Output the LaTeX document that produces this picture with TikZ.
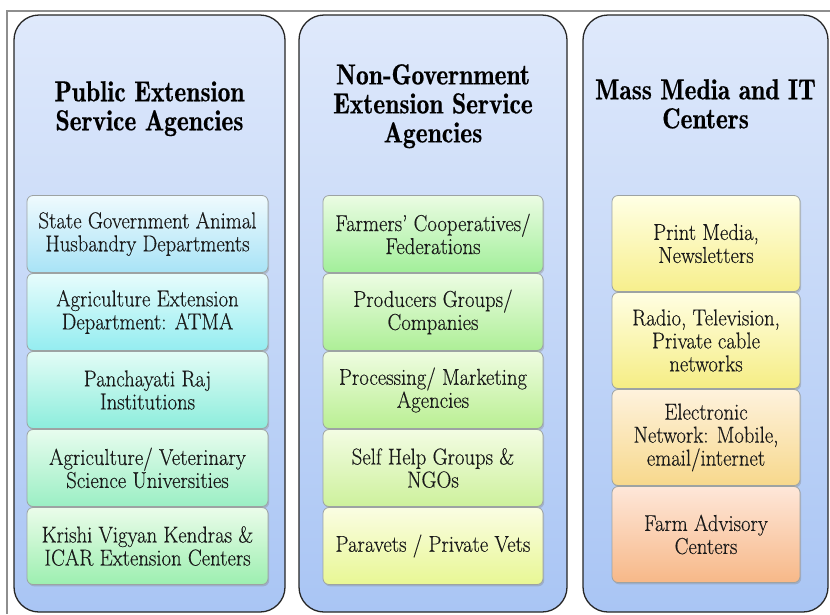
\documentclass[tikz,border=0pt]{standalone}
\usepackage{fontspec}
\setmainfont{Latin Modern Roman}[FakeStretch=0.9, FakeBold=0.35]
\newfontfamily\headfont{lmromandemi10-regular}[Extension=.otf, FakeStretch=0.88, FakeBold=0.4]
\usetikzlibrary{shadows}

\definecolor{framegray}{HTML}{8E8E8E}
\definecolor{paneltop}{HTML}{DFE9FB}
\definecolor{panelbot}{HTML}{A9C5F4}
\definecolor{boxline}{HTML}{9DA3A3}
% top / bottom shades of the boxes
\definecolor{puba}{HTML}{EFFAFE}\definecolor{pubA}{HTML}{A8E3F6}
\definecolor{pubb}{HTML}{E7FCFC}\definecolor{pubB}{HTML}{94EDF0}
\definecolor{pubc}{HTML}{E3FCF6}\definecolor{pubC}{HTML}{8CEDDC}
\definecolor{pubd}{HTML}{E7FCEE}\definecolor{pubD}{HTML}{9AEFC4}
\definecolor{pube}{HTML}{EBFCEA}\definecolor{pubE}{HTML}{9CEFB0}
\definecolor{ngoa}{HTML}{EBFCE3}\definecolor{ngoA}{HTML}{A2EF9A}
\definecolor{ngob}{HTML}{EDFCE3}\definecolor{ngoB}{HTML}{ADEF96}
\definecolor{ngoc}{HTML}{EFFCE1}\definecolor{ngoC}{HTML}{B9EF92}
\definecolor{ngod}{HTML}{F3FCE3}\definecolor{ngoD}{HTML}{CDF19C}
\definecolor{ngoe}{HTML}{FAFDE3}\definecolor{ngoE}{HTML}{E8F794}
\definecolor{meda}{HTML}{FFFFE5}\definecolor{medA}{HTML}{F7EF8C}
\definecolor{medb}{HTML}{FFFEE2}\definecolor{medB}{HTML}{F5ED84}
\definecolor{medc}{HTML}{FEF2DD}\definecolor{medC}{HTML}{F7D88C}
\definecolor{medd}{HTML}{FEE7D9}\definecolor{medD}{HTML}{F7B888}

\begin{document}
\begin{tikzpicture}[x=1pt, y=-1pt,
        panel/.style={draw=black!85, line width=1.3pt, rounded corners=25pt,
            top color=paneltop, bottom color=panelbot},
        head/.style={anchor=north, inner sep=0pt, align=center, text=black,
            font=\headfont\fontsize{29}{29}\selectfont},
        item/.style 2 args={draw=boxline, line width=0.8pt, rounded corners=6pt,
            top color=#1, bottom color=#2, align=center, inner sep=2pt,
            text=black!90, font=\fontsize{23}{23}\selectfont,
            drop shadow={shadow xshift=1.2pt, shadow yshift=-1.8pt, opacity=0.35}},
        pubbox/.style={minimum width=241, minimum height=77},
        ngobox/.style={minimum width=220, minimum height=77},
        medbox/.style={minimum width=188, minimum height=96}]
        \useasboundingbox (0,0) rectangle (830,614);

        % frame round the whole chart
        \draw[framegray, line width=1.5pt] (7,614) -- (7,11) -- (830,11);

        % the three columns
        \node[panel, minimum width=271, minimum height=597] (pub) at (149.5,313.5) {};
        \node[panel, minimum width=268, minimum height=597] (ngo) at (433,313.5) {};
        \node[panel, minimum width=245, minimum height=597] (med) at (705.5,313.5) {};

        \node[head] (pubhead) at (149.5,81) {Public Extension\\Service Agencies};
        \node[head] (ngohead) at (433,64) {Non-Government\\Extension Service\\Agencies};
        \node[head] (medhead) at (705.5,79) {Mass Media and IT\\Centers};

        % public agencies
        \node[item={puba}{pubA}, pubbox] (pub1) at (147.5,234) {State Government Animal\\Husbandry Departments};
        \node[item={pubb}{pubB}, pubbox] (pub2) at (147.5,312) {Agriculture Extension\\Department: ATMA};
        \node[item={pubc}{pubC}, pubbox] (pub3) at (147.5,390) {Panchayati Raj\\Institutions};
        \node[item={pubd}{pubD}, pubbox] (pub4) at (147.5,468) {Agriculture/ Veterinary\\Science Universities};
        \node[item={pube}{pubE}, pubbox] (pub5) at (147.5,546) {Krishi Vigyan Kendras \&\\ICAR Extension Centers};

        % non-government agencies
        \node[item={ngoa}{ngoA}, ngobox] (ngo1) at (433,234) {Farmers’ Cooperatives/\\Federations};
        \node[item={ngob}{ngoB}, ngobox] (ngo2) at (433,312) {Producers Groups/\\Companies};
        \node[item={ngoc}{ngoC}, ngobox] (ngo3) at (433,390) {Processing/ Marketing\\Agencies};
        \node[item={ngod}{ngoD}, ngobox] (ngo4) at (433,468) {Self Help Groups \&\\NGOs};
        \node[item={ngoe}{ngoE}, ngobox] (ngo5) at (433,546) {Paravets / Private Vets};

        % media and IT
        \node[item={meda}{medA}, medbox] (med1) at (706,243.5) {Print Media,\\Newsletters};
        \node[item={medb}{medB}, medbox] (med2) at (706,340.5) {Radio, Television,\\Private cable\\networks};
        \node[item={medc}{medC}, medbox] (med3) at (706,437.5) {Electronic\\Network: Mobile,\\email/internet};
        \node[item={medd}{medD}, medbox] (med4) at (706,534.5) {Farm Advisory\\Centers};
    \end{tikzpicture}
\end{document}
